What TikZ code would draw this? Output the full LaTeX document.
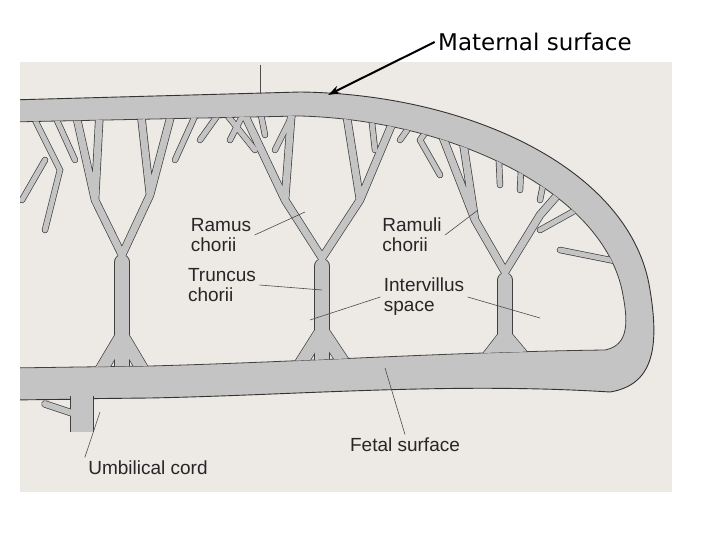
\documentclass[tikz,border=0pt]{standalone}
\usepackage{fontspec}
\setmainfont{Liberation Sans}
\newfontfamily\topfont{DejaVu Sans}
\usetikzlibrary{arrows.meta}
\begin{document}
\begin{tikzpicture}[x=1pt,y=-1pt,
  lbl/.style={font=\fontsize{19}{20}\selectfont, align=left, text=black!85},
  lead/.style={draw=black!70, line width=0.6pt}]
\definecolor{page}{HTML}{EDE9E5}
\definecolor{villi}{HTML}{C4C4C4}
\useasboundingbox (0,0) rectangle (720,540);
\fill[white] (0,0) rectangle (720,540);
\fill[page] (20,62) rectangle (672,492);
\def\outer{(10,100) -- (300,92) .. controls (470,94) and (632,170) .. (650,290) .. controls (660,350) and (652,385) .. (610,392) .. controls (450,382) and (300,395) .. (150,398) -- (10,400)}
\def\cavs{(10,122) -- (300,116) .. controls (450,120) and (600,190) .. (622,290) .. controls (628,320) and (630,345) .. (605,350) .. controls (450,352) and (300,362) .. (150,366) -- (10,368) -- cycle}
\def\trunks{(122,380) -- (122,262) (322,380) -- (322,266) (505,380) -- (505,280)}
\def\feet{(100,372) -- (122,335) -- (144,372) (298,368) -- (322,330) -- (346,366) (484,362) -- (505,335) -- (526,360)}
\def\branches{(122,255) -- (95,200) -- (75,110) (95,200) -- (100,105) (122,255) -- (150,195) -- (175,100) (150,195) -- (140,105)
  (322,258) -- (285,200) -- (240,105) (285,200) -- (292,105) (322,258) -- (360,200) -- (400,105) (360,200) -- (345,105)
  (505,272) -- (475,220) -- (440,130) (475,220) -- (462,135) (505,272) -- (540,215) -- (575,175)}
\def\twigs{(75,160) -- (50,105) (45,230) -- (60,170) -- (30,110) (22,200) -- (45,160) (175,160) -- (200,105) (200,140) -- (225,105)
  (230,140) -- (248,105) (265,135) -- (258,100) (275,150) -- (300,100) (255,150) -- (215,100) (400,140) -- (425,105) (375,150) -- (370,105) (420,140) -- (440,112)
  (440,175) -- (420,140) (540,230) -- (585,205) -- (625,235) (560,250) -- (620,262) (500,185) -- (498,140) (520,190) -- (522,150) (540,200) -- (548,160) (565,190) -- (595,195)}
\begin{scope}
\clip (20,62) rectangle (672,492);
\path[fill=villi] \outer;
\path[fill=page, draw=black!75, line width=0.8pt] \cavs;
\begin{scope}
\clip \cavs;
\draw[black!75, line width=15.4pt, line cap=round] \trunks;
\draw[black!75, line width=13.4pt, line join=round] \feet;
\draw[black!75, line width=8.4pt, line cap=round, line join=round] \branches;
\draw[black!75, line width=6.4pt, line cap=round] \twigs;
\draw[villi, line width=14pt, line cap=round] \trunks;
\draw[villi, line width=12pt, line join=round] \feet;
\draw[villi, line width=7pt, line cap=round, line join=round] \branches;
\draw[villi, line width=5pt, line cap=round] \twigs;
\end{scope}
% umbilical cord
\draw[black!75, line width=7.4pt, line cap=round] (72,413) -- (45,404);
\draw[black!75, line width=23.4pt] (82,396) -- (82,432);
\draw[villi, line width=6pt, line cap=round] (72,413) -- (45,404);
\draw[villi, line width=22pt] (82,394) -- (82,432);
\draw[black!80, line width=0.9pt] (10,100) -- (300,92) .. controls (470,94) and (632,170) .. (650,290) .. controls (660,350) and (652,385) .. (610,392) .. controls (450,382) and (300,395) .. (150,398) -- (93.2,398.6);
\draw[black!80, line width=0.9pt] (70.8,399.3) -- (10,400);
\end{scope}
% tick at top
\draw[lead] (260,65) -- (260,93);
% labels
\node[lbl] (ramus) at (221,235) {Ramus\\chorii};
\node[lbl] (ramuli) at (412,235) {Ramuli\\chorii};
\node[lbl] (truncus) at (222,285) {Truncus\\chorii};
\node[lbl] (inter) at (424,297) {Intervillus\\space};
\node[lbl] (fetal) at (405,445) {Fetal surface};
\node[lbl] (umb) at (148,468) {Umbilical cord};
\node[font=\topfont\fontsize{23}{24}\selectfont] (mat) at (535,42) {Maternal surface};
\coordinate (a1) at (305,212); \coordinate (a2) at (478,210);
\coordinate (a3) at (322,290); \coordinate (a4) at (310,320);
\coordinate (a5) at (540,318); \coordinate (a6) at (385,368);
\coordinate (a7) at (100,412); \coordinate (tip) at (328,95);
\draw[lead] (ramus.east) -- (a1);
\draw[lead] (ramuli.east) -- (a2);
\draw[lead] (truncus.east) -- (a3);
\draw[lead] (inter.west) -- (a4);
\draw[lead] (inter.east) -- (a5);
\draw[lead] (fetal.north) -- (a6);
\draw[lead] (umb.north west) -- (a7);
\draw[line width=2pt, -{Stealth[length=12pt,width=8pt]}] (mat.west) -- (tip);
\end{tikzpicture}
\end{document}
